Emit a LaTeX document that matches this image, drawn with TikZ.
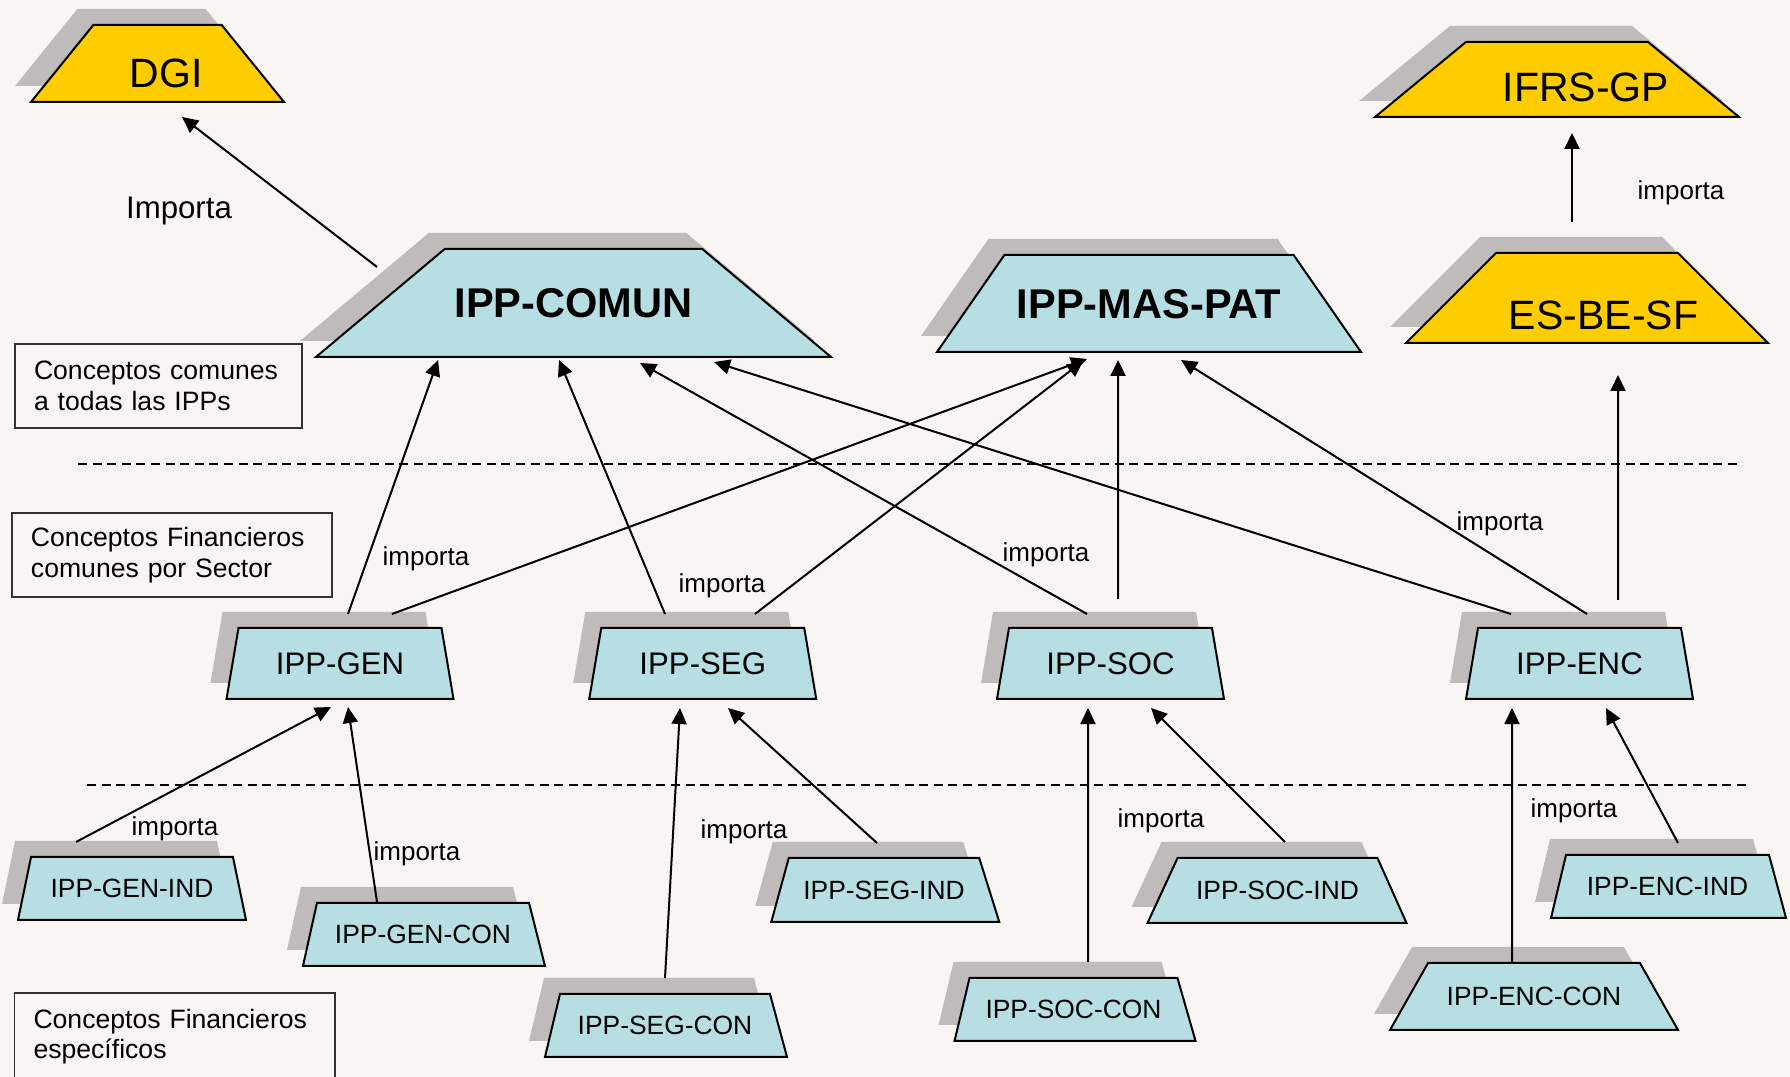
\documentclass[tikz,border=0pt]{standalone}
\usepackage{fontspec}
\setmainfont{Liberation Sans}
\usetikzlibrary{shapes.geometric,shadows,arrows.meta,calc}

\begin{document}
\begin{tikzpicture}[x=0.5pt,y=0.5pt,
  trapnode/.style={trapezium, trapezium stretches body=true, draw=black, line width=1pt,
    inner sep=0pt, outer sep=0pt,
    drop shadow={shadow xshift=-8pt, shadow yshift=8pt, fill=shadowColor, opacity=1}},
  yellownode/.style={trapnode, fill=yellowFill, inner xsep=1pt},
  topnode/.style={trapnode, fill=blueFill, font=\fontsize{20.8}{24}\selectfont\bfseries},
  midnode/.style={trapnode, fill=blueFill, minimum width=113.5pt, text height=23.35pt, text depth=12.15pt,
    trapezium angle=80.4, font=\fontsize{15.6}{18}\selectfont},
  lownode/.style={trapnode, fill=blueFill, text height=20.45pt, text depth=11.05pt,
    font=\fontsize{13.2}{15}\selectfont},
  bigtext/.style={font=\fontsize{20.5}{24}\selectfont, inner sep=0pt},
  notebox/.style={draw=boxColor, line width=0.75pt, inner xsep=9.5pt, inner ysep=0pt,
    align=left, font=\fontsize{13.3}{15.3}\selectfont},
  importlabel/.style={font=\fontsize{13}{15}\selectfont, inner sep=0pt},
  imports/.style={draw=black, line width=1pt, -{Triangle[length=8pt,width=7.5pt]}},
  divider/.style={draw=black, line width=1pt, dash pattern=on 4.5pt off 2.8pt}]
\definecolor{bgColor}{RGB}{249,245,242}
\definecolor{blueFill}{RGB}{183,223,227}
\definecolor{yellowFill}{RGB}{255,204,0}
\definecolor{shadowColor}{RGB}{190,187,186}
\definecolor{boxColor}{RGB}{50,50,50}

\fill[bgColor] (0,0) rectangle (1790,1077);
\useasboundingbox (0,0) rectangle (1790,1077);

\path[divider] (78,613) -- (1740,613);

\path[divider] (87,292) -- (1747,292);

\node[yellownode, minimum width=126.5pt, text height=19.25pt, text depth=19.25pt, trapezium angle=51,
  label={[bigtext, xshift=4.25pt, yshift=-4.75pt]center:DGI}] (dgi) at (157.5,1013.5) {};

\node[yellownode, minimum width=182pt, text height=18.75pt, text depth=18.75pt, trapezium angle=39.5,
  label={[bigtext, xshift=14.5pt, yshift=-4pt]center:IFRS-GP}] (ifrs) at (1557,997.5) {};

\node[yellownode, minimum width=181pt, text height=22.5pt, text depth=22.5pt, trapezium angle=45,
  label={[bigtext, xshift=8.25pt, yshift=-8.5pt]center:ES-BE-SF}] (esbe) at (1587,779) {};

\node[topnode, minimum width=257.5pt, text height=34.45pt, text depth=19.55pt, trapezium angle=40] (comun) at (573.5,774) {IPP-COMUN};

\node[topnode, minimum width=212pt, text height=31.7pt, text depth=16.8pt, trapezium angle=55.2] (maspat) at (1149,773.5) {IPP-MAS-PAT};

\node[midnode] (gen) at (340,413.5) {IPP-GEN};

\node[midnode] (seg) at (702.75,413.5) {IPP-SEG};

\node[midnode] (soc) at (1110.5,413.5) {IPP-SOC};

\node[midnode] (enc) at (1579.5,413.5) {IPP-ENC};

\node[lownode, minimum width=114pt, trapezium angle=78.3] (genind) at (132,188.5) {IPP-GEN-IND};

\node[lownode, minimum width=121pt, trapezium left angle=77.5, trapezium right angle=75.8] (gencon) at (423,142.5) {IPP-GEN-CON};

\node[lownode, minimum width=114pt, text height=20.7pt, text depth=11.3pt, trapezium left angle=74.7, trapezium right angle=72.6] (segind) at (884,187) {IPP-SEG-IND};

\node[lownode, minimum width=121pt, trapezium left angle=76.6, trapezium right angle=74.9] (segcon) at (665,51.5) {IPP-SEG-CON};

\node[lownode, minimum width=129.5pt, text height=20.95pt, text depth=11.55pt, trapezium left angle=65.2, trapezium right angle=65.9] (socind) at (1277.5,186.5) {IPP-SOC-IND};

\node[lownode, minimum width=120.5pt, trapezium left angle=76.6, trapezium right angle=74] (soccon) at (1073.5,67.5) {IPP-SOC-CON};

\node[lownode, minimum width=117.5pt, trapezium left angle=76.6, trapezium right angle=74.9] (encind) at (1667.5,190.5) {IPP-ENC-IND};

\node[lownode, minimum width=144pt, text height=21.45pt, text depth=12.05pt, trapezium angle=60.4] (enccon) at (1534,80.5) {IPP-ENC-CON};

\node[notebox, text width=124.5pt, minimum height=42pt] (notecomun) at (158.5,691) {Conceptos comunes\\a todas las IPPs};

\node[notebox, text width=141pt, minimum height=42pt] (notesector) at (172,522) {Conceptos Financieros\\comunes por Sector};

\node[notebox, text width=141.25pt, minimum height=43.5pt] (notespec) at (174.75,40.5) {Conceptos Financieros\\espec\'ificos};

\path[imports] ($(comun.north)+(-196.5,-18)$) -- ($(dgi.south)+(24.5,-15)$);

\path[imports] ($(gen.north)+(8,14)$) -- ($(comun.south)+(-135.5,-3)$);

\path[imports] ($(gen.north)+(52,14)$) -- ($(maspat.south)+(-62,-7)$);

\path[imports] ($(seg.north)+(-37.75,14)$) -- ($(comun.south)+(-14.5,-3)$);

\path[imports] ($(seg.north)+(52.25,14)$) -- ($(maspat.south)+(-66,-9)$);

\path[imports] ($(soc.north)+(-23.5,14)$) -- ($(comun.south)+(66.5,-6)$);

\path[imports] ($(soc.north)+(7.5,29)$) -- ($(maspat.south)+(-31,-8)$);

\path[imports] ($(enc.north)+(-68.5,14)$) -- ($(comun.south)+(140.5,-5)$);

\path[imports] ($(enc.north)+(7.5,14)$) -- ($(maspat.south)+(32,-8)$);

\path[imports] ($(enc.north)+(38.5,28)$) -- ($(esbe.south)+(31,-32)$);

\path[imports] ($(esbe.north)+(-15,31)$) -- ($(ifrs.south)+(15,-16)$);

\path[imports] ($(genind.north)+(-56,15)$) -- ($(gen.south)+(-9,-8)$);

\path[imports] ($(gencon.north)+(-46,1)$) -- ($(gen.south)+(8,-8)$);

\path[imports] ($(segcon.north)+(0,16)$) -- ($(seg.south)+(-22.75,-9)$);

\path[imports] ($(segind.north)+(-7,15)$) -- ($(seg.south)+(25.25,-9)$);

\path[imports] ($(soccon.north)+(14.5,16)$) -- ($(soc.south)+(-22.5,-9)$);

\path[imports] ($(socind.north)+(7.5,16)$) -- ($(soc.south)+(40.5,-9)$);

\path[imports] ($(enccon.north)+(-22,0)$) -- ($(enc.south)+(-67.5,-9)$);

\path[imports] ($(encind.north)+(10.5,12)$) -- ($(enc.south)+(26.5,-9)$);

\node[importlabel, font=\fontsize{15.6}{18}\selectfont] (lbldgi) at (179,866) {Importa};

\node[importlabel] (lblgen) at (426,518) {importa};

\node[importlabel] (lblseg) at (722,491) {importa};

\node[importlabel] (lblsoc) at (1046,522) {importa};

\node[importlabel] (lblenc) at (1500,553) {importa};

\node[importlabel] (lblesbe) at (1681,884) {importa};

\node[importlabel] (lblgenind) at (175,248) {importa};

\node[importlabel] (lblgencon) at (417,223) {importa};

\node[importlabel] (lblsegcon) at (744,245) {importa};

\node[importlabel] (lblsocind) at (1161,256) {importa};

\node[importlabel] (lblencind) at (1574,266) {importa};
\end{tikzpicture}
\end{document}
